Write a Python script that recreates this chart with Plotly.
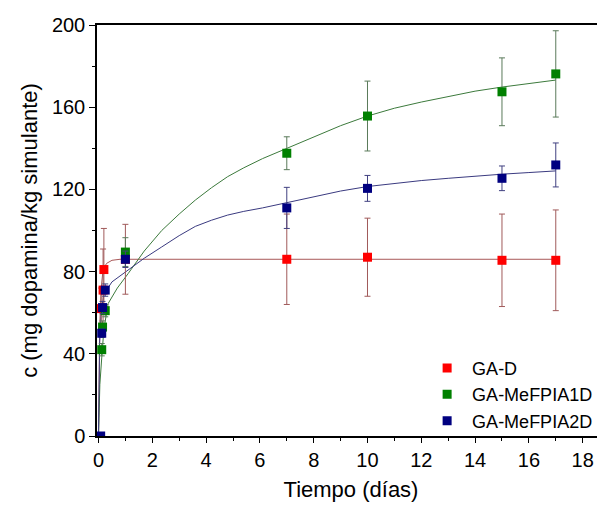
import plotly.graph_objects as go

# ---- data ----
t_red = [0.1, 0.17, 0.2, 1, 7, 10, 15, 17]
c_red = [62, 71, 81, 86, 86, 87, 85.5, 85.5]
e_red = [10, 20, 20, 17, 22, 19, 22.5, 24.5]

t_green = [0.12, 0.15, 0.25, 1, 7, 10, 15, 17]
c_green = [42, 53, 61, 89.5, 137.6, 155.7, 167.5, 176.2]
e_green = [3, 3, 3, 7, 8, 17, 16.5, 21]

t_blue = [0.08, 0.12, 0.15, 0.25, 1, 7, 10, 15, 17]
c_blue = [0, 50, 62.5, 71, 86, 111, 120.5, 125.4, 131.9]
e_blue = [0, 2, 3, 3, 4, 10, 6.3, 6, 10.7]

# fitted curves, points
fit_t_red = [0, 0.05, 0.1, 0.17, 0.3, 0.5, 0.8, 1, 17]
fit_c_red = [0, 55, 72, 81, 84, 85.5, 86, 86, 86]

fit_t_green = [0, 0.05, 0.12, 0.2, 0.36, 0.7, 1.1, 1.7, 2.35, 3, 3.6, 4.2, 4.8,
               5.4, 6.1, 7, 8, 9, 10, 11, 12, 13, 14, 15, 16, 17]
fit_c_green = [0, 25, 38, 52, 64.5, 72, 79, 90, 100, 108, 114.8, 120.8, 126.2,
               130.5, 135, 140, 145.5, 151, 155.7, 159.5, 162.5, 165.3, 167.8,
               169.8, 171.6, 173.2]

fit_t_blue = [0, 0.04, 0.1, 0.2, 0.5, 1.1, 1.7, 2.35, 3, 3.6, 4.2, 4.8, 5.4,
              6.1, 7, 8, 9, 10, 11, 12, 13, 14, 15, 16, 17]
fit_c_blue = [0, 45, 60, 69, 75, 80.8, 86.5, 92, 97.5, 102, 105, 107.5, 109.3,
              111, 113.5, 116.5, 119.2, 121.4, 123, 124.3, 125.4, 126.5, 127.4,
              128.2, 129]

names = ["GA-D", "GA-MeFPIA1D", "GA-MeFPIA2D"]
x_ticks = list(range(0, 19, 2))
y_ticks = list(range(0, 201, 40))

marker_colors = ["#ff0000", "#008000", "#000080"]
line_colors = ["#a85858", "#3c7a3c", "#3a3a80"]
err_colors = ["#a05a5a", "#5a7a5a", "#404080"]

fig = go.Figure()

fits = [(fit_t_red, fit_c_red), (fit_t_green, fit_c_green), (fit_t_blue, fit_c_blue)]
for (ft, fc), lc in zip(fits, line_colors):
    fig.add_trace(go.Scatter(x=ft, y=fc, mode="lines", showlegend=False,
                             line=dict(color=lc, width=1), hoverinfo="skip"))

series = [(t_red, c_red, e_red), (t_green, c_green, e_green), (t_blue, c_blue, e_blue)]
for (t, c, e), name, mc, ec in zip(series, names, marker_colors, err_colors):
    fig.add_trace(go.Scatter(
        x=t, y=c, mode="markers", name=name,
        marker=dict(symbol="square", size=9, color=mc),
        error_y=dict(type="data", array=e, visible=True, color=ec,
                     thickness=1, width=3),
    ))

font_family = "Liberation Sans, Arial, sans-serif"
# the page body has an 8px default margin, so the figure is 8px smaller
fig.update_layout(
    width=597, height=503,
    margin=dict(l=89, r=0, t=17, b=75, autoexpand=False),
    paper_bgcolor="white", plot_bgcolor="white",
    font=dict(family=font_family, color="black"),
    showlegend=True,
    legend=dict(x=0.64, y=0.21, xanchor="left", yanchor="top",
                font=dict(size=18, family=font_family),
                bgcolor="rgba(0,0,0,0)", tracegroupgap=0,
                itemwidth=40),
    xaxis=dict(
        range=[-0.056, 18.83], tickmode="array", tickvals=x_ticks,
        ticks="outside", ticklen=5, tickwidth=1, tickcolor="black",
        minor=dict(dtick=1, ticks="outside", ticklen=3, tickcolor="black"),
        showline=True, linecolor="black", linewidth=1.5, mirror=True,
        showgrid=False, zeroline=False, automargin=False,
        tickfont=dict(size=20),
        title=dict(text="Tiempo (días)", font=dict(size=22), standoff=12),
    ),
    yaxis=dict(
        range=[0, 200], tickmode="array", tickvals=y_ticks,
        ticks="outside", ticklen=6, tickwidth=1, tickcolor="black",
        minor=dict(dtick=20, ticks="outside", ticklen=3, tickcolor="black"),
        showline=True, linecolor="black", linewidth=1.5, mirror=True,
        showgrid=False, zeroline=False, automargin=False,
        tickfont=dict(size=20),
        title=dict(text="c (mg dopamina/kg simulante)", font=dict(size=22), standoff=8),
    ),
)

fig.write_html("out.html")
